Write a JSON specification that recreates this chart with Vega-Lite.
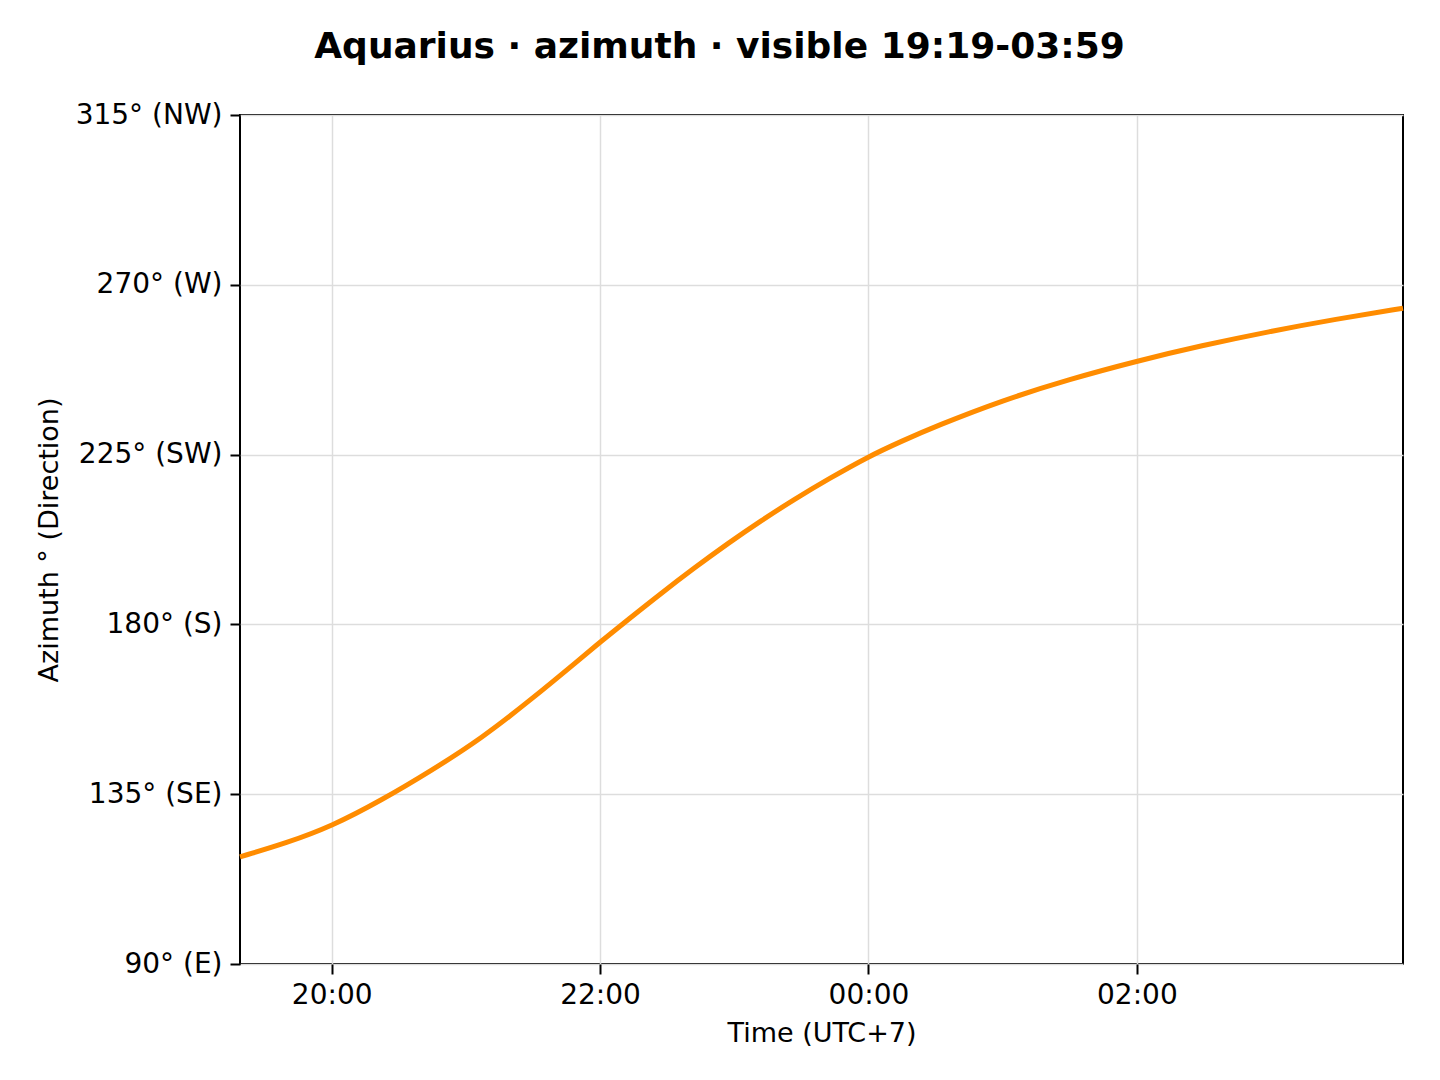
{
  "$schema": "https://vega.github.io/schema/vega-lite/v6.json",
  "autosize": {"type": "none"},
  "padding": {"left": 240, "top": 115, "right": 37, "bottom": 116},
  "width": 1163,
  "height": 849,
  "background": "white",
  "title": {
    "text": "Aquarius · azimuth · visible 19:19-03:59",
    "font": "DejaVu Sans",
    "fontSize": 36,
    "fontWeight": "bold",
    "color": "black",
    "anchor": "middle",
    "frame": "group",
    "dx": -102,
    "offset": 35
  },
  "data": {
    "values": [
      {"time": "2024-01-01T19:19:00", "azimuth": 118.4},
      {"time": "2024-01-01T19:40:00", "azimuth": 122.1},
      {"time": "2024-01-01T20:00:00", "azimuth": 126.5},
      {"time": "2024-01-01T20:22:00", "azimuth": 133.3},
      {"time": "2024-01-01T20:45:00", "azimuth": 141.4},
      {"time": "2024-01-01T21:07:00", "azimuth": 149.8},
      {"time": "2024-01-01T21:29:00", "azimuth": 160.0},
      {"time": "2024-01-01T21:52:00", "azimuth": 171.3},
      {"time": "2024-01-01T22:00:00", "azimuth": 175.3},
      {"time": "2024-01-01T22:13:00", "azimuth": 181.5},
      {"time": "2024-01-01T22:27:00", "azimuth": 188.1},
      {"time": "2024-01-01T22:42:00", "azimuth": 194.9},
      {"time": "2024-01-01T22:57:00", "azimuth": 201.4},
      {"time": "2024-01-01T23:12:00", "azimuth": 207.5},
      {"time": "2024-01-01T23:27:00", "azimuth": 213.2},
      {"time": "2024-01-01T23:42:00", "azimuth": 218.5},
      {"time": "2024-01-02T00:00:00", "azimuth": 224.5},
      {"time": "2024-01-02T00:15:00", "azimuth": 228.6},
      {"time": "2024-01-02T00:30:00", "azimuth": 232.5},
      {"time": "2024-01-02T01:00:00", "azimuth": 239.4},
      {"time": "2024-01-02T01:30:00", "azimuth": 245.0},
      {"time": "2024-01-02T02:00:00", "azimuth": 249.8},
      {"time": "2024-01-02T02:29:00", "azimuth": 253.9},
      {"time": "2024-01-02T02:59:00", "azimuth": 257.6},
      {"time": "2024-01-02T03:29:00", "azimuth": 260.9},
      {"time": "2024-01-02T03:59:00", "azimuth": 263.8}
    ]
  },
  "mark": {"type": "line", "color": "#ff8c00", "strokeWidth": 5, "interpolate": "basis"},
  "encoding": {
    "x": {
      "field": "time",
      "type": "temporal",
      "title": "Time (UTC+7)",
      "scale": {
        "domain": [
          {"year": 2024, "month": 1, "date": 1, "hours": 19, "minutes": 19},
          {"year": 2024, "month": 1, "date": 2, "hours": 3, "minutes": 59}
        ]
      },
      "axis": {
        "values": [
          {"year": 2024, "month": 1, "date": 1, "hours": 20},
          {"year": 2024, "month": 1, "date": 1, "hours": 22},
          {"year": 2024, "month": 1, "date": 2, "hours": 0},
          {"year": 2024, "month": 1, "date": 2, "hours": 2}
        ],
        "format": "%H:%M",
        "labelPadding": 7,
        "titlePadding": 11
      }
    },
    "y": {
      "field": "azimuth",
      "type": "quantitative",
      "title": "Azimuth ° (Direction)",
      "scale": {"domain": [90, 315], "nice": false, "zero": false},
      "axis": {
        "values": [90, 135, 180, 225, 270, 315],
        "labelExpr": "datum.value == 90 ? '90° (E)' : datum.value == 135 ? '135° (SE)' : datum.value == 180 ? '180° (S)' : datum.value == 225 ? '225° (SW)' : datum.value == 270 ? '270° (W)' : '315° (NW)'",
        "labelPadding": 8,
        "titlePadding": 12
      }
    }
  },
  "config": {
    "view": {"stroke": "black", "strokeWidth": 2},
    "axis": {
      "domain": false,
      "grid": true,
      "gridColor": "#dddddd",
      "gridWidth": 1.5,
      "tickColor": "black",
      "tickSize": 10,
      "tickWidth": 2,
      "labelFont": "DejaVu Sans",
      "labelFontSize": 28,
      "labelColor": "black",
      "titleFont": "DejaVu Sans",
      "titleFontSize": 27,
      "titleFontWeight": "normal",
      "titleColor": "black",
      "labelFlush": false,
      "labelOverlap": false
    }
  }
}
